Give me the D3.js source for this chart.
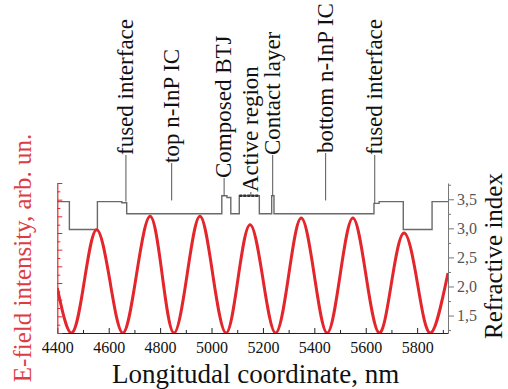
<!DOCTYPE html>
<html>
<head>
<meta charset="utf-8">
<script src="https://cdn.jsdelivr.net/npm/d3@7"></script>
<style>
  body { margin: 0; background: #fff; }
  svg text { font-family: "Liberation Serif", "Times New Roman", serif; }
</style>
</head>
<body>
<div id="chart"></div>
<script>
// values

const xTickValues = [4400, 4600, 4800, 5000, 5200, 5400, 5600, 5800];
const xMinorValues = [4500, 4700, 4900, 5100, 5300, 5500, 5700, 5900];
const nTickValues = [1.5, 2.0, 2.5, 3.0, 3.5];
const nMinorValues = [1.25, 1.75, 2.25, 2.75, 3.25, 3.75];
const eTickValues = [0, 0.2, 0.4, 0.6, 0.8, 1.0, 1.2, 1.4, 1.6, 1.8];
const eMinorValues = [0.1, 0.3, 0.5, 0.7, 0.9, 1.1, 1.3, 1.5, 1.7];

// E-field intensity (standing wave), nm / arb. un.
const fieldNm = [4400, 4456, 4505, 4553, 4605, 4656, 4708, 4761, 4808, 4854, 4905, 4955,
                 5005, 5056, 5103, 5150, 5200, 5250, 5300, 5349, 5400, 5450, 5500, 5550,
                 5601, 5652, 5700, 5749, 5801, 5853, 5920];
const fieldE = [0.54, 0, 0.62, 1.24, 0.62, 0, 0.70, 1.40, 0.70, 0, 0.70, 1.40,
                0.70, 0, 0.65, 1.30, 0.65, 0, 0.69, 1.38, 0.69, 0, 0.69, 1.38,
                0.69, 0, 0.60, 1.20, 0.60, 0, 0.72];

// refractive index profile: layer edges (nm) and index of each layer
const layerEdges = [4400, 4447, 4556, 4651, 4670, 5040, 5060, 5075, 5108, 5186, 5234, 5243,
                    5632, 5652, 5746, 5858, 5920];
const layerIndex = [3.46, 2.98, 3.46, 3.44, 3.25, 3.56, 3.53, 3.25, 3.56, 3.25, 3.56, 3.25,
                    3.43, 3.46, 2.98, 3.46];
const activeRange = [5108, 5186];

// layer annotations
const layerLabels = ["fused interface", "top n-InP IC", "Composed BTJ", "Active region",
                     "Contact layer", "bottom n-InP IC", "fused interface"];
const labelNm = [4667, 4845, 5049, 5153, 5238, 5444, 5635];
const labelIndex = [3.46, 3.48, 3.56, 3.56, 3.56, 3.48, 3.43]; // where the leader stops
const labelTop = [155, 163, 178, 192, 155, 153, 155];        // where the text starts (px)

const W = 508, H = 389;
const plot = {left: 57.3, right: 448, top: 183, bottom: 333};
const red = "#e3262b";

const svg = d3.select("#chart").append("svg")
    .attr("width", W).attr("height", H);

const x = d3.scaleLinear().domain([4400, 5920]).range([plot.left, plot.right]);
const yE = d3.scaleLinear().domain([0, 1.8]).range([plot.bottom, plot.top]);
const yN = d3.scaleLinear().domain([1.2, 3.78]).range([plot.bottom, plot.top]);

svg.append("clipPath").attr("id", "clip")
  .append("rect")
    .attr("x", plot.left).attr("y", plot.top - 30)
    .attr("width", plot.right - plot.left).attr("height", plot.bottom - plot.top + 30);

// refractive index steps
const steps = layerIndex.map((n, i) => [layerEdges[i], n]);
steps.push([layerEdges[layerEdges.length - 1], layerIndex[layerIndex.length - 1]]);

const stepLine = d3.line()
    .x(d => x(d[0])).y(d => yN(d[1]))
    .curve(d3.curveStepAfter);

svg.append("path")
    .datum(steps)
    .attr("fill", "none")
    .attr("stroke", "#6a6a6a")
    .attr("stroke-width", 1.4)
    .attr("d", stepLine);

// active region drawn darker
const activeIdx = layerEdges.indexOf(activeRange[0]);
svg.append("path")
    .datum([[activeRange[0], layerIndex[activeIdx]], [activeRange[1], layerIndex[activeIdx]]])
    .attr("fill", "none")
    .attr("stroke", "#333")
    .attr("stroke-width", 2.4)
    .attr("stroke-dasharray", "3,1")
    .attr("d", d3.line().x(d => x(d[0])).y(d => yN(d[1])));

// leader lines + labels
const labels = svg.append("g");
layerLabels.forEach((t, i) => {
    const lx = x(labelNm[i]);
    labels.append("line")
        .attr("x1", lx).attr("x2", lx)
        .attr("y1", yN(labelIndex[i])).attr("y2", labelTop[i])
        .attr("stroke", "#555").attr("stroke-width", 1);
    labels.append("text")
        .attr("transform", `translate(${lx + 7},${labelTop[i]}) rotate(-90)`)
        .attr("text-anchor", "start")
        .style("font-size", "23px")
        .attr("fill", "#111")
        .text(t);
});

// E-field curve
const fieldLine = d3.line()
    .x((d, i) => x(fieldNm[i])).y(d => yE(d))
    .curve(d3.curveNatural);

svg.append("path")
    .datum(fieldE)
    .attr("clip-path", "url(#clip)")
    .attr("fill", "none")
    .attr("stroke", red)
    .attr("stroke-width", 3)
    .attr("d", fieldLine);

// bottom axis
const gx = svg.append("g")
    .attr("transform", `translate(0,${plot.bottom})`)
    .call(d3.axisBottom(x).tickValues(xTickValues).tickSizeInner(-5).tickSizeOuter(0)
          .tickPadding(9).tickFormat(d3.format("d")));
gx.selectAll("text").style("font-size", "16px").attr("fill", "#111");
gx.select(".domain").attr("stroke", "#222");
gx.selectAll(".tick line").attr("stroke", "#222");

svg.append("g")
    .attr("transform", `translate(0,${plot.bottom})`)
    .call(d3.axisBottom(x).tickValues(xMinorValues.filter(v => v < 5920))
          .tickSizeInner(-3).tickSizeOuter(0).tickFormat(""))
    .call(g => g.select(".domain").remove())
    .selectAll("line").attr("stroke", "#222");

// left axis (red, no labels)
const gl = svg.append("g")
    .attr("transform", `translate(${plot.left},0)`)
    .call(d3.axisLeft(yE).tickValues(eTickValues).tickSizeInner(-5).tickSizeOuter(0).tickFormat(""));
gl.select(".domain").attr("stroke", red).attr("stroke-width", 1.2);
gl.selectAll(".tick line").attr("stroke", red);

svg.append("g")
    .attr("transform", `translate(${plot.left},0)`)
    .call(d3.axisLeft(yE).tickValues(eMinorValues).tickSizeInner(-3).tickSizeOuter(0).tickFormat(""))
    .call(g => g.select(".domain").remove())
    .selectAll("line").attr("stroke", red);

// right axis (refractive index)
const gr = svg.append("g")
    .attr("transform", `translate(${plot.right},0)`)
    .call(d3.axisRight(yN).tickValues(nTickValues).tickSizeInner(6).tickSizeOuter(0).tickPadding(3)
          .tickFormat(d => d3.format(".1f")(d).replace(".", ",")));
gr.selectAll("text").style("font-size", "16px").attr("fill", "#555");
gr.select(".domain").attr("stroke", "#777");
gr.selectAll(".tick line").attr("stroke", "#777");

svg.append("g")
    .attr("transform", `translate(${plot.right},0)`)
    .call(d3.axisRight(yN).tickValues(nMinorValues).tickSizeInner(3).tickSizeOuter(0).tickFormat(""))
    .call(g => g.select(".domain").remove())
    .selectAll("line").attr("stroke", "#777");

// axis titles
svg.append("text")
    .attr("x", (plot.left + plot.right) / 2 + 3).attr("y", 383)
    .attr("text-anchor", "middle")
    .style("font-size", "27px").attr("fill", "#111")
    .text("Longitudal coordinate, nm");

svg.append("text")
    .attr("transform", `translate(31,258) rotate(-90)`)
    .attr("text-anchor", "middle")
    .style("font-size", "25px").attr("fill", "#dd3c42")
    .text("E-field intensity, arb. un.");

svg.append("text")
    .attr("transform", `translate(502,256) rotate(-90)`)
    .attr("text-anchor", "middle")
    .style("font-size", "25px").attr("fill", "#111")
    .text("Refractive index");
</script>
</body>
</html>
